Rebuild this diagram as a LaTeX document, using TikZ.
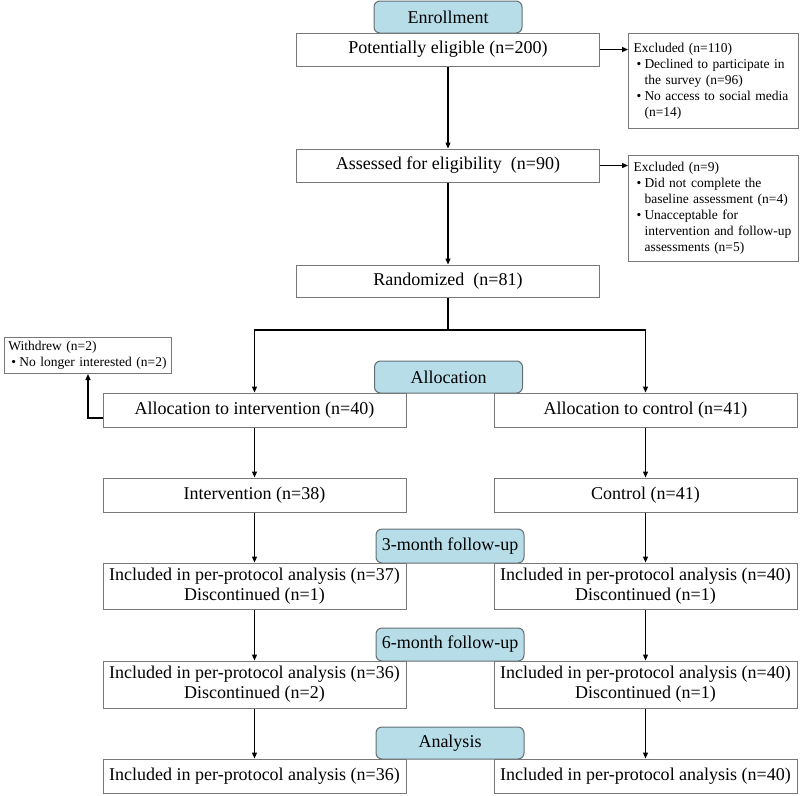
\documentclass[tikz,border=0pt]{standalone}
\usepackage{fontspec}
\setmainfont{Liberation Serif}
\usetikzlibrary{arrows.meta}
\definecolor{tabblue}{RGB}{183,222,232}
\definecolor{boxgray}{RGB}{120,120,120}
\definecolor{tabedge}{RGB}{100,110,115}
\tikzset{
  box/.style={draw=boxgray, line width=1pt, fill=white, inner sep=0pt, align=center,
    minimum width=303pt, font=\fontsize{18}{20}\selectfont},
  tabbox/.style={draw=tabedge, line width=1pt, fill=tabblue, rounded corners=6pt, inner sep=0pt,
    minimum width=148pt, font=\fontsize{18}{20}\selectfont},
  note/.style={draw=boxgray, line width=1pt, fill=white, inner xsep=5pt, inner ysep=0pt,
    align=left, anchor=north west, font=\fontsize{13.5}{16}\selectfont},
  arr/.style={line width=1.2pt, -{Triangle[length=6pt,width=5pt]}},
  ln/.style={line width=1.2pt}
}
\newcommand{\bul}{\makebox[11pt][l]{\hspace{3pt}\textbullet}}
\newcommand{\ind}{\hspace*{11pt}}
\begin{document}
\begin{tikzpicture}[x=1pt,y=-1pt]
\useasboundingbox (0,0) rectangle (800,795);
% tabs (drawn first, covered by boxes)
\node[tabbox, minimum height=32pt] (tenroll) at (448,17) {Enrollment};
\node[tabbox, minimum height=32pt] (talloc) at (448.5,377) {Allocation};
\node[tabbox, minimum height=34pt] (t3m) at (450,546) {3-month follow-up};
\node[tabbox, minimum height=33pt] (t6m) at (450,644.5) {6-month follow-up};
\node[tabbox, minimum height=32pt] (tan) at (450,743) {Analysis};
% main column
\node[box, minimum height=33pt] (pe) at (448,49.5) {Potentially eligible (n=200)};
\node[box, minimum height=33pt] (as) at (448,165.5) {Assessed for eligibility~ (n=90)};
\node[box, minimum height=32pt] (ra) at (448,281) {Randomized~ (n=81)};
% notes
\node[note, text width=160pt, minimum height=95pt] (ex1) at (628,33)
  {Excluded (n=110)\\
   \bul Declined to participate in\\
   \ind the survey (n=96)\\
   \bul No access to social media\\
   \ind (n=14)};
\node[note, text width=160pt, minimum height=106pt] (ex2) at (628,155)
  {Excluded (n=9)\\
   \bul Did not complete the\\
   \ind baseline assessment (n=4)\\
   \bul Unacceptable for\\
   \ind intervention and follow-up\\
   \ind assessments (n=5)};
\node[note, text width=159pt, minimum height=36pt, inner xsep=4pt] (wd) at (4,337)
  {Withdrew (n=2)\\
   \bul No longer interested (n=2)};
% arms
\node[box, minimum height=34pt] (ai) at (254.5,410) {Allocation to intervention (n=40)};
\node[box, minimum height=34pt] (ac) at (645.5,410) {Allocation to control (n=41)};
\node[box, minimum height=34pt] (ii) at (254.5,495) {Intervention (n=38)};
\node[box, minimum height=34pt] (cc) at (645.5,495) {Control (n=41)};
\node[box, minimum height=46pt] (i3) at (254.5,586) {Included in per-protocol analysis (n=37)\\Discontinued (n=1)};
\node[box, minimum height=46pt] (c3) at (645.5,586) {Included in per-protocol analysis (n=40)\\Discontinued (n=1)};
\node[box, minimum height=47pt] (i6) at (254.5,684.5) {Included in per-protocol analysis (n=36)\\Discontinued (n=2)};
\node[box, minimum height=47pt] (c6) at (645.5,684.5) {Included in per-protocol analysis (n=40)\\Discontinued (n=1)};
\node[box, minimum height=34pt] (ia) at (254.5,776) {Included in per-protocol analysis (n=36)};
\node[box, minimum height=34pt] (ca) at (645.5,776) {Included in per-protocol analysis (n=40)};
% connectors
\coordinate (split) at (448,330);
\draw[arr] (pe.south) -- (as.north);
\draw[arr] (as.south) -- (ra.north);
\draw[arr] (pe.east) -- (pe.east -| ex1.west);
\draw[arr] (as.east) -- (as.east -| ex2.west);
\draw[ln] (ra.south) -- (split);
\draw[arr] (split) -| (ai.north);
\draw[arr] (split) -| (ac.north);
\draw[arr] ([yshift=-8pt]ai.west) -| (wd.south);
\draw[arr] (ai.south) -- (ii.north);
\draw[arr] (ac.south) -- (cc.north);
\draw[arr] (ii.south) -- (i3.north);
\draw[arr] (cc.south) -- (c3.north);
\draw[arr] (i3.south) -- (i6.north);
\draw[arr] (c3.south) -- (c6.north);
\draw[arr] (i6.south) -- (ia.north);
\draw[arr] (c6.south) -- (ca.north);
\end{tikzpicture}
\end{document}
